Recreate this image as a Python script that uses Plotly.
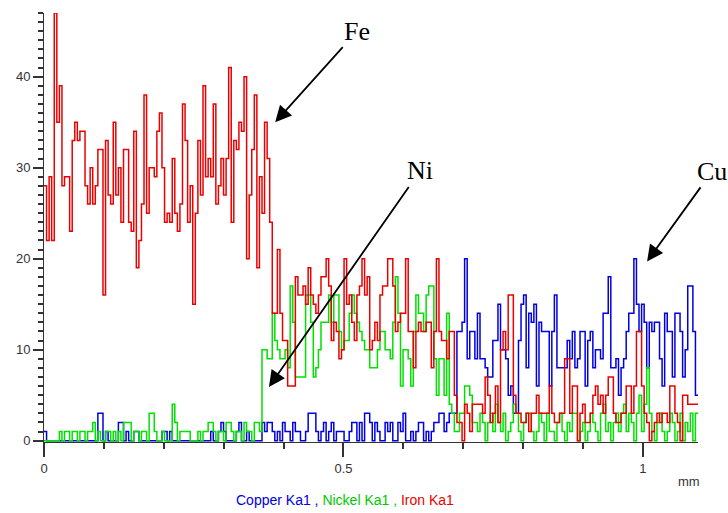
import numpy as np
import plotly.graph_objects as go

# Line scan: distance axis (mm) sampled at equal steps
SCAN_LENGTH_MM = 1.092
N_POINTS = 255

# Iron Ka1 counts
iron_ka1 = [
    28,22,29,22,47,35,39,28,29,29,23,33,35,33,34,34,28,26,30,26,28,32,32,16,33,27,26,35,27,30,24,32,32,24,23,34,19,22,26,38,25,30,30,29,34,
    36,30,24,25,24,31,25,23,26,37,33,24,28,15,25,33,27,39,29,31,29,37,26,28,31,27,31,41,24,33,32,35,34,40,20,27,32,38,19,29,25,35,31,
    24,
    14,14,21,14,11,11,6,6,6,18,16,16,17,15,19,16,15,14,16,18,18,20,17,11,13,12,9,10,20,15,16,13,11,16,17,20,16,
    18,10,11,13,11,16,17,17,20,20,17,12,13,14,14,20,12,12,8,12,13,12,12,13,13,8,12,20,12,11,11,9,12,12,5,2,2,0,4,3,1,4,4,
    4,4,3,7,5,2,3,6,2,10,12,10,16,16,5,3,3,2,2,3,1,3,3,5,3,3,3,3,6,3,2,2,3,3,9,9,3,6,6,0,3,4,2,2,3,5,
    6,4,5,3,5,7,7,3,2,2,3,3,6,6,3,6,12,12,6,3,2,0,1,2,3,2,3,3,2,6,6,3,2,0,5,5,4,4,4,4,
]

# Nickel Ka1 counts
nickel_ka1 = [
    0,0,0,0,0,0,
    1,0,1,1,0,1,1,0,1,1,0,1,1,2,0,
    1,0,0,1,1,0,1,0,1,0,
    2,2,2,0,1,1,
    0,1,1,0,3,3,
    1,0,0,1,0,0,0,4,
    2,0,1,1,1,1,0,0,0,1,
    0,1,1,2,2,1,0,1,1,0,
    2,2,1,0,1,1,0,2,1,1,0,2,2,1,
    10,10,9,9,14,11,10,9,9,10,8,17,13,7,7,7,7,16,16,13,7,8,10,13,13,13,16,13,16,16,12,10,11,11,14,16,14,13,12,11,10,
    10,8,8,8,10,12,12,10,10,9,13,18,14,6,10,10,9,6,12,16,14,14,12,16,17,17,9,5,9,9,5,14,4,3,1,1,3,3,6,6,5,2,2,
    1,3,2,0,2,3,1,4,2,1,3,0,1,2,4,3,1,0,2,3,3,1,0,1,3,2,0,3,1,1,
    0,2,3,1,0,2,1,3,3,0,1,2,0,1,3,2,1,0,3,4,1,2,0,2,3,1,3,4,1,3,
    2,0,3,5,1,4,8,3,1,0,2,3,1,0,1,3,2,0,1,3,0,2,1,3,0,3,
]

# Copper Ka1 counts
copper_ka1 = [
    1,0,0,0,0,0,0,0,0,0,0,0,0,0,0,0,0,0,0,0,
    0,3,3,0,1,0,0,0,0,2,2,0,1,0,0,1,1,0,0,0,
    0,0,0,0,0,0,1,1,0,1,0,0,0,0,0,0,0,0,0,0,
    0,0,0,0,0,1,0,0,1,2,1,0,0,0,0,1,2,0,0,1,
    0,0,0,0,0,2,1,2,2,1,0,1,0,2,1,1,0,2,1,1,
    0,0,1,3,3,3,1,0,1,2,0,1,2,0,1,1,1,0,0,1,
    2,2,0,2,0,3,3,2,0,2,1,0,0,2,1,2,0,0,2,1,
    3,0,0,1,0,1,2,2,0,1,0,1,2,2,3,3,1,2,3,3,3,
    12,12,13,20,9,12,12,9,
    14,9,9,8,7,7,11,11,15,10,10,9,5,6,3,3,11,15,16,8,14,13,15,6,13,12,12,12,6,12,16,8,8,8,8,11,9,12,8,9,12,12,6,11,12,
    8,10,10,9,14,14,18,8,8,9,5,8,9,12,14,14,20,15,12,15,13,8,13,12,13,13,9,6,14,12,12,7,14,14,12,7,10,17,17,12,5,
]

series_names = ["Copper Ka1", "Nickel Ka1", "Iron Ka1"]
series_values = [copper_ka1, nickel_ka1, iron_ka1]
series_colors = ["rgb(0,0,225)", "rgb(0,225,0)", "rgb(235,0,0)"]

X_RANGE = [0, SCAN_LENGTH_MM]
Y_RANGE = [-0.15, 47]

step = SCAN_LENGTH_MM / N_POINTS

fig = go.Figure()
for name, vals, col in zip(series_names, series_values, series_colors):
    xs = np.arange(len(vals) + 1) * step
    ys = list(vals) + [vals[-1]]
    fig.add_trace(go.Scatter(x=xs, y=ys, mode="lines", name=name,
                             line=dict(color=col, width=1.5, shape="hv"),
                             showlegend=False, hoverinfo="skip"))

axis_col = "#333333"
fig.update_layout(
    template="none",
    width=728, height=513,
    margin=dict(l=44, r=30, t=13, b=71),
    font=dict(family="Arial, Liberation Sans, sans-serif", size=13, color="#333333"),
    xaxis=dict(range=X_RANGE, showline=True, linecolor=axis_col,
               ticks="outside", ticklen=14, tickwidth=2, tickcolor=axis_col,
               dtick=0.5, showgrid=False, zeroline=False,
               minor=dict(ticks="outside", ticklen=6, tickcolor=axis_col, tickwidth=1.5,
                          dtick=0.1, showgrid=False)),
    yaxis=dict(range=Y_RANGE, showline=True, linecolor=axis_col,
               ticks="outside", ticklen=10, tickwidth=2, tickcolor=axis_col,
               dtick=10, showgrid=False, zeroline=False,
               minor=dict(ticks="outside", ticklen=5, tickcolor=axis_col, tickwidth=1.5,
                          dtick=1, showgrid=False)),
)

serif = dict(family="Liberation Serif, Times New Roman, serif", size=26, color="black")
arrows = [
    ("Fe", 0.386, 35.0, 82, -91),
    ("Ni", 0.3756, 5.9, 151, -216),
    ("Cu", 1.007, 19.7, 65, -90),
]
for label, xt, yt, axp, ayp in arrows:
    fig.add_annotation(x=xt, y=yt, xref="x", yref="y", text=label, showarrow=True,
                       ax=axp, ay=ayp, font=serif, arrowhead=2, arrowsize=1.8,
                       arrowwidth=1.8, arrowcolor="black", standoff=0)

fig.add_annotation(x=0.987, y=-0.093, xref="paper", yref="paper", text="mm",
                   xanchor="center", yanchor="middle",
                   showarrow=False, font=dict(size=13, color="#333333"))
legend_text = ('<span style="color:rgb(0,0,225)">Copper Ka1 ,</span> '
               '<span style="color:rgb(0,200,0)">Nickel Ka1 ,</span> '
               '<span style="color:rgb(235,0,0)">Iron Ka1</span>')
fig.add_annotation(x=0.46, y=-0.135, xref="paper", yref="paper", text=legend_text,
                   xanchor="center", yanchor="middle",
                   showarrow=False, font=dict(size=14))

fig.write_html("out.html")
